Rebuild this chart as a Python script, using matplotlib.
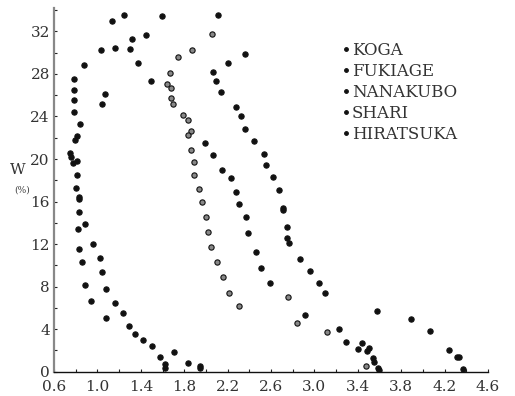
import numpy as np
import matplotlib.pyplot as plt
from matplotlib.ticker import MultipleLocator, FixedLocator, FormatStrFormatter

# Water content W (%) against x for each soil
koga_x = [0.876, 0.781, 0.781, 0.781, 0.787, 0.840, 0.815, 0.796, 0.750, 0.752, 0.815, 0.778,
          0.815, 0.803, 0.828, 0.828, 0.833, 0.824, 0.830, 0.855, 0.889, 0.938, 1.079, 1.347,
          1.500, 1.577, 1.623, 1.623]
koga_w = [28.87, 27.52, 26.51, 25.51, 24.38, 23.31, 22.12, 21.81, 20.55, 20.20, 19.80, 19.67,
          18.51, 17.26, 16.47, 16.25, 15.00, 13.46, 11.55, 10.35, 8.16, 6.65, 5.08, 3.52,
          2.45, 1.36, 0.70, 0.35]

fukiage_x = [1.042, 1.070, 1.036, 1.132, 1.245, 1.598, 1.448, 1.316, 1.165, 1.298, 1.371, 1.491,
             0.886, 0.962, 1.024, 1.045, 1.076, 1.159, 1.239, 1.294, 1.417, 1.709, 1.838, 1.946,
             1.946]
fukiage_w = [25.17, 26.14, 30.28, 32.94, 33.54, 33.41, 31.62, 31.25, 30.40, 30.31, 29.03, 27.29,
             13.87, 11.99, 10.73, 9.41, 7.81, 6.47, 5.49, 4.33, 3.01, 1.83, 0.79, 0.55,
             0.30]

nanakubo_x = [2.056, 1.872, 1.746, 1.669, 1.639, 1.676, 1.681, 1.700, 1.792, 1.832, 1.863, 1.835,
              1.863, 1.890, 1.890, 1.939, 1.967, 2.001, 2.017, 2.044, 2.105, 2.155, 2.210, 2.305,
              2.754, 2.842, 3.119, 3.473]
nanakubo_w = [31.78, 30.21, 29.62, 28.08, 27.08, 26.64, 25.76, 25.20, 24.16, 23.69, 22.68, 22.25,
              20.89, 19.74, 18.54, 17.17, 16.00, 14.53, 13.18, 11.77, 10.35, 8.88, 7.44, 6.15,
              7.06, 4.58, 3.76, 0.54]

shari_x = [2.114, 2.207, 1.992, 2.068, 2.148, 2.228, 2.277, 2.302, 2.370, 2.385, 2.465, 2.508,
           2.594, 2.913, 3.227, 3.294, 3.402, 3.436, 3.488]
shari_w = [33.54, 29.03, 21.52, 20.33, 19.01, 18.17, 16.88, 15.75, 14.53, 13.02, 11.24, 9.79,
           8.32, 5.34, 3.99, 2.82, 2.14, 2.73, 1.98]

hiratsuka_x = [2.363, 2.068, 2.093, 2.139, 2.274, 2.323, 2.357, 2.443, 2.533, 2.551, 2.621, 2.674,
               2.708, 2.714, 2.745, 2.750, 2.769, 2.867, 2.957, 3.042, 3.095, 3.506, 3.543, 3.549,
               3.589, 3.598, 3.574, 3.888, 4.063, 4.238, 4.317, 4.335, 4.372]
hiratsuka_w = [29.84, 28.21, 27.36, 26.26, 24.88, 24.04, 22.84, 21.68, 20.46, 19.48, 18.32, 17.04,
               15.38, 15.22, 13.59, 12.55, 12.11, 10.64, 9.45, 8.32, 7.38, 2.20, 1.26, 0.94,
               0.38, 0.16, 5.74, 4.96, 3.83, 2.04, 1.41, 1.41, 0.22]

names = ['KOGA', 'FUKIAGE', 'NANAKUBO', 'SHARI', 'HIRATSUKA']
xs = [koga_x, fukiage_x, nanakubo_x, shari_x, hiratsuka_x]
ws = [koga_w, fukiage_w, nanakubo_w, shari_w, hiratsuka_w]
faces = ['#111111', '#111111', '#888888', '#111111', '#111111']

x_ticks = [0.6, 1.0, 1.4, 1.8, 2.2, 2.6, 3.0, 3.4, 3.8, 4.2, 4.6]

plt.rcParams['font.family'] = ['DejaVu Serif']

fig = plt.figure(figsize=(5.15, 3.96), dpi=100)
ax = fig.add_axes([0.1049, 0.0614, 0.8427, 0.9184])

for name, x, w, fc in zip(names, xs, ws, faces):
    ax.plot(x, w, 'o', ms=3.8, mfc=fc, mec='#111111', mew=0.8, label=name)

ax.set_xlim(0.6, 4.6)
ax.set_ylim(0, 34.2)
ax.xaxis.set_major_locator(FixedLocator(x_ticks))
ax.xaxis.set_minor_locator(FixedLocator(np.arange(0.8, 4.6, 0.4)))
ax.yaxis.set_major_locator(MultipleLocator(4))
ax.yaxis.set_minor_locator(MultipleLocator(2))
ax.xaxis.set_major_formatter(FormatStrFormatter('%.1f'))
ax.tick_params(which='both', direction='in', length=2.5, width=0.8, colors='#222222',
               labelsize=11)
ax.tick_params(axis='x', pad=6)
ax.tick_params(axis='y', pad=3)
ax.tick_params(axis='both', labelcolor='#333333')

for s in ['top', 'right']:
    ax.spines[s].set_visible(False)
ax.spines['left'].set_color('#888888')
ax.spines['left'].set_linewidth(1.6)
ax.spines['bottom'].set_color('#111111')
ax.spines['bottom'].set_linewidth(1.0)

ax.text(-0.083, 0.555, 'W', transform=ax.transAxes, fontsize=11, color='#333333',
        ha='center', va='center')
ax.text(-0.074, 0.50, '(%)', transform=ax.transAxes, fontsize=6.5, color='#444444',
        ha='center', va='center')

leg = ax.legend(loc='upper left', bbox_to_anchor=(0.648, 0.929), frameon=False,
                handlelength=0.3, handletextpad=0.2, labelspacing=0.24,
                markerscale=0.7, fontsize=12, borderpad=0)
for t in leg.get_texts():
    t.set_color('#333333')
for h in leg.legend_handles:
    h.set_markerfacecolor('#111111')

fig.savefig('out.png', dpi=100)
